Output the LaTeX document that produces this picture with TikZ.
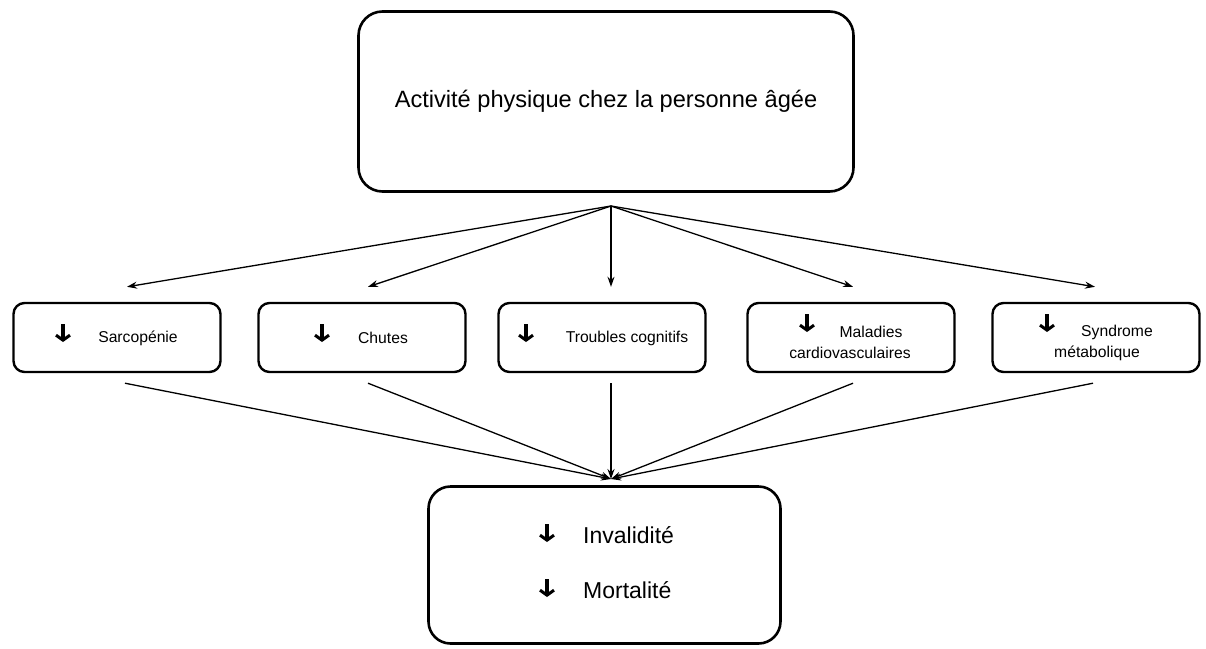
\documentclass[tikz,border=0pt]{standalone}
\usepackage{fontspec}
\setmainfont{Liberation Sans}
\usetikzlibrary{calc,arrows.meta}
\usetikzlibrary{positioning}
\tikzstyle{schema}=[
  x=1pt,y=-1pt,>={Stealth[length=10pt,width=7pt]},line join=round
]
\tikzstyle{grandbox}=[
  draw,rounded corners=24pt,line width=2.6pt,minimum width=495pt,minimum height=180pt,inner sep=0pt,
  font=\fontsize{23.6}{28}\selectfont
]
\tikzstyle{petitbox}=[
  draw,rounded corners=11pt,line width=2.4pt,minimum width=207pt,minimum height=69pt,inner sep=0pt
]
\tikzstyle{basbox}=[
  draw,rounded corners=22pt,line width=2.6pt,minimum width=352pt,minimum height=157pt,inner sep=0pt
]
\tikzstyle{effet}=[
  font=\fontsize{15.7}{19}\selectfont,inner sep=0pt
]
\tikzstyle{issue}=[
  font=\fontsize{23}{27}\selectfont,inner sep=0pt,anchor=west
]
\tikzstyle{fleche}=[
  ->,line width=1.3pt
]
\tikzstyle{baisse}=[
  line width=3.4pt,-{Straight Barb[length=5pt,width=14pt,line width=3pt]}
]

\begin{document}
\begin{tikzpicture}[schema]
  \useasboundingbox (0,0) rectangle (1206,648);
  % activite physique
  \node (activite) at (606,101.5) [grandbox] {Activité physique chez la personne âgée};
  % les cinq effets
  \node (sarco) at (117,337.5) [petitbox] {};
  \node (chutes) at (362,337.5) [petitbox] {};
  \node (troubles) at (602,337.5) [petitbox] {};
  \node (maladies) at (851,337.5) [petitbox] {};
  \node (syndrome) at (1096,337.5) [petitbox] {};
  \node (sarcoT) at ($(sarco)+(21,0.5)$) [effet] {Sarcopénie};
  \node (chutesT) at ($(chutes)+(21,0.5)$) [effet] {Chutes};
  \node (troublesT) at ($(troubles)+(25,0.5)$) [effet] {Troubles cognitifs};
  \node (maladiesT) at ($(maladies)+(20,-5.5)$) [effet] {Maladies};
  \node (maladiesT2) at ($(maladies)+(-1,15.5)$) [effet] {cardiovasculaires};
  \node (syndromeT) at ($(syndrome)+(21,-5.5)$) [effet] {Syndrome};
  \node (syndromeT2) at ($(syndrome)+(1,15.5)$) [effet] {métabolique};
  \draw[baisse] ($(sarco)+(-54,-13.5)$) -- ++(0,18);
  \draw[baisse] ($(chutes)+(-40,-13.5)$) -- ++(0,18);
  \draw[baisse] ($(troubles)+(-76,-13.5)$) -- ++(0,18);
  \draw[baisse] ($(maladies)+(-44,-23.5)$) -- ++(0,18);
  \draw[baisse] ($(syndrome)+(-49,-23.5)$) -- ++(0,18);
  % invalidite et mortalite
  \node (resultat) at (604.5,565) [basbox] {};
  \node (invalid) at ($(resultat)+(-21.5,-30)$) [issue] {Invalidité};
  \node (mortal) at ($(resultat)+(-21.5,25)$) [issue] {Mortalité};
  \draw[baisse] ($(resultat)+(-57.5,-41)$) -- ++(0,18);
  \draw[baisse] ($(resultat)+(-57.5,14)$) -- ++(0,18);
  % fleches
  \coordinate (depart) at (611,206);
  \coordinate (arrivee) at (611,479);
  \foreach \boite/\dh/\db in {sarco/10/8,chutes/6/6,troubles/9/9,maladies/2/2,syndrome/-1/-3}{
    \coordinate (\boite-haut) at ($(\boite.north)+(\dh,-15)$);
    \coordinate (\boite-bas) at ($(\boite.south)+(\db,10)$);
    \draw[fleche] (depart) -- (\boite-haut);
    \draw[fleche] (\boite-bas) -- (arrivee);
  }
\end{tikzpicture}
\end{document}
